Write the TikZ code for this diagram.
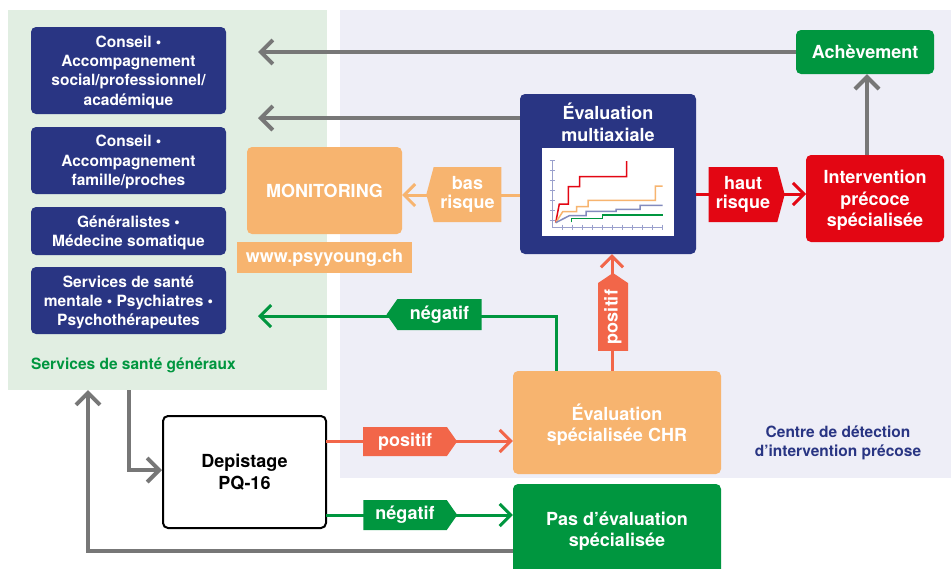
\documentclass[tikz,border=0pt]{standalone}
\usepackage{fontspec}
\setmainfont{TeX Gyre Heros}
\usetikzlibrary{arrows.meta,shapes.symbols}
\definecolor{navy}{HTML}{293583}
\definecolor{orng}{HTML}{F7B46F}
\definecolor{salm}{HTML}{F26649}
\definecolor{rred}{HTML}{E30613}
\definecolor{ggreen}{HTML}{00963F}
\definecolor{ggrey}{HTML}{777777}
\definecolor{bggreen}{HTML}{E1EEE2}
\definecolor{bglav}{HTML}{EEEEF7}
\definecolor{tickc}{HTML}{9AA0CC}
\tikzset{
 sm/.style={font=\fontsize{15.5}{19.3}\selectfont\bfseries},
 lg/.style={font=\fontsize{18}{21.5}\selectfont\bfseries},
 lgl/.style={font=\fontsize{18}{18.5}\selectfont\bfseries},
 box/.style={rounded corners=5pt, inner sep=0pt, align=center, text=white, text depth=-3pt},
 lab/.style={signal, inner sep=0pt, align=center, text=white},
 tipg/.style={-{Straight Barb[length=12pt,width=24pt,line width=4pt]}},
 tipc/.style={-{Straight Barb[length=11pt,width=22pt,line width=3pt]}},
 garrow/.style={draw=ggrey, line width=4pt, tipg},
 carrow/.style={line width=3pt, tipc},
}
\begin{document}
\begin{tikzpicture}[x=1pt,y=-1pt]
\useasboundingbox (0,0) rectangle (951,568);
% backgrounds
\fill[bggreen] (8,10) rectangle (327,390);
\fill[bglav] (340,10) rectangle (951,478);
% left boxes
\node[box,sm,fill=navy,minimum width=195,minimum height=87] (c1) at (128.5,70.5) {Conseil •\\Accompagnement\\social/professionnel/\\académique};
\node[box,sm,fill=navy,minimum width=195,minimum height=67] (c2) at (128.5,160.5) {Conseil •\\Accompagnement\\famille/proches};
\node[box,sm,fill=navy,minimum width=195,minimum height=48] (c3) at (128.5,231) {Généralistes •\\Médecine somatique};
\node[box,sm,fill=navy,minimum width=195,minimum height=67] (c4) at (128.5,300.5) {Services de santé\\mentale • Psychiatres •\\Psychothérapeutes};
\node[sm,text=ggreen,anchor=west,inner sep=0pt] (sgen) at (31,365) {Services de santé généraux};
% monitoring
\node[box,lg,fill=orng,minimum width=155,minimum height=87] (mon) at (324.5,190.5) {MONITORING};
\node[lg,fill=orng,text=white,minimum width=175,minimum height=31,inner sep=0pt] (www) at (324.5,257.5) {www.psyyoung.ch};
% multiaxiale
\node[box,fill=navy,minimum width=176,minimum height=160] (multi) at (608,174) {};
\node[lg,text=white,align=center,inner sep=0pt] (multit) at (608,122.5) {Évaluation\\multiaxiale};
\fill[white] (542,148) rectangle (674,236);
% chart axes
\draw[tickc,line width=1pt] (552,160) -- (552,227) -- (663,227);
\foreach \yy in {160,170,...,220} \draw[tickc,line width=1pt] (549.5,\yy) -- (554.5,\yy);
\foreach \xx in {562,572,...,662} \draw[tickc,line width=1pt] (\xx,224.5) -- (\xx,229.5);
\draw[rred,line width=1.5pt] (555.7,222.7) -- (559.3,204) -- (568.3,204) -- (568.3,186.7) -- (579.7,186.7) -- (579.7,176.7) -- (626.7,176.7) -- (626.7,161);
\draw[orng,line width=1.5pt] (555.7,222.7) -- (562.7,211.7) -- (576.7,211.7) -- (576.7,206.7) -- (588,206.7) -- (588,200.3) -- (655.3,200.3) -- (655.3,186) -- (662.7,186);
\draw[tickc!80!navy,line width=1.5pt] (555.7,222.7) -- (569.3,215.7) -- (586,215.7) -- (586,211.3) -- (616,211.3) -- (616,209.3) -- (640,209.3) -- (640,205.3) -- (662.7,205.3);
\draw[ggreen,line width=1.5pt] (571.7,222.3) -- (571.7,218.7) -- (602.7,218.7) -- (602.7,215) -- (662.7,215);
% right boxes
\node[box,lg,fill=rred,minimum width=138,minimum height=87] (int) at (875,198.5) {Intervention\\précoce\\spécialisée};
\node[box,lg,fill=ggreen,minimum width=138,minimum height=44] (ach) at (865,52) {Achèvement};
% bottom boxes
\node[box,lg,fill=orng,minimum width=208,minimum height=103] (chr) at (617,422.5) {Évaluation\\spécialisée CHR};
\node[box,lg,fill=ggreen,minimum width=208,minimum height=90] (pas) at (617,529) {Pas d’évaluation\\spécialisée};
\node[box,lg,text=black,draw=black,line width=2pt,fill=white,minimum width=163,minimum height=112] (dep) at (244.5,472) {Depistage\\PQ-16};
\node[sm,text=navy,align=center,inner sep=0pt] (centre) at (838,443) {Centre de détection\\d’intervention précose};
% coordinates
\coordinate (g1) at (258,52);
\coordinate (g2) at (258,118);
\coordinate (ob) at (402,195);
\coordinate (rb) at (806,194);
\coordinate (nb) at (258,316);
\coordinate (nc) at (556,316);
\coordinate (pb) at (326,441);
\coordinate (qb) at (326,515);
\coordinate (up) at (129,390);
\coordinate (dn) at (129,470);
\coordinate (ret) at (88,551);
\coordinate (rettop) at (88,390);
% arrows
\draw[garrow] (ach.west) -- (g1);
\draw[garrow] (multi.west |- g2) -- (g2);
\draw[garrow] (int.north -| 867,0) -- (ach.south -| 867,0);
\draw[carrow,orng] (multi.west |- ob) -- (ob);
\draw[carrow,rred] (multi.east |- rb) -- (rb);
\draw[carrow,salm] (chr.north -| 612,0) -- (multi.south -| 612,0);
\draw[carrow,ggreen] (chr.north -| nc) -- (nc) -- (nb);
\draw[carrow,salm] (pb) -- (chr.west |- pb);
\draw[carrow,ggreen] (qb) -- (pas.west |- qb);
\draw[garrow] (up) -- (dn) -- (dep.west |- dn);
\draw[garrow] (pas.west |- ret) -- (ret) -- (rettop);
% labels
\node[lab,lgl,fill=orng,signal to=west,signal pointer angle=150,minimum width=75,minimum height=55] (lbas) at (467.5,194.5) {bas\\risque};
\node[lab,lgl,fill=rred,signal to=east,signal pointer angle=150,minimum width=76,minimum height=55] (lhaut) at (743,194.5) {haut\\risque};
\node[lab,lg,fill=ggreen,signal to=west,signal pointer angle=110,minimum width=95,minimum height=31] (lneg1) at (439.5,314.5) {négatif};
\node[lab,lg,fill=salm,signal to=east,signal pointer angle=110,minimum width=94,minimum height=29] (lpos1) at (405,441.5) {positif};
\node[lab,lg,fill=ggreen,signal to=east,signal pointer angle=110,minimum width=94,minimum height=30] (lneg2) at (405,515) {négatif};
\node[lab,lg,fill=salm,signal to=east,signal pointer angle=112,minimum width=78,minimum height=30,rotate=90] (lpos2) at (613,317) {positif};
\end{tikzpicture}
\end{document}
